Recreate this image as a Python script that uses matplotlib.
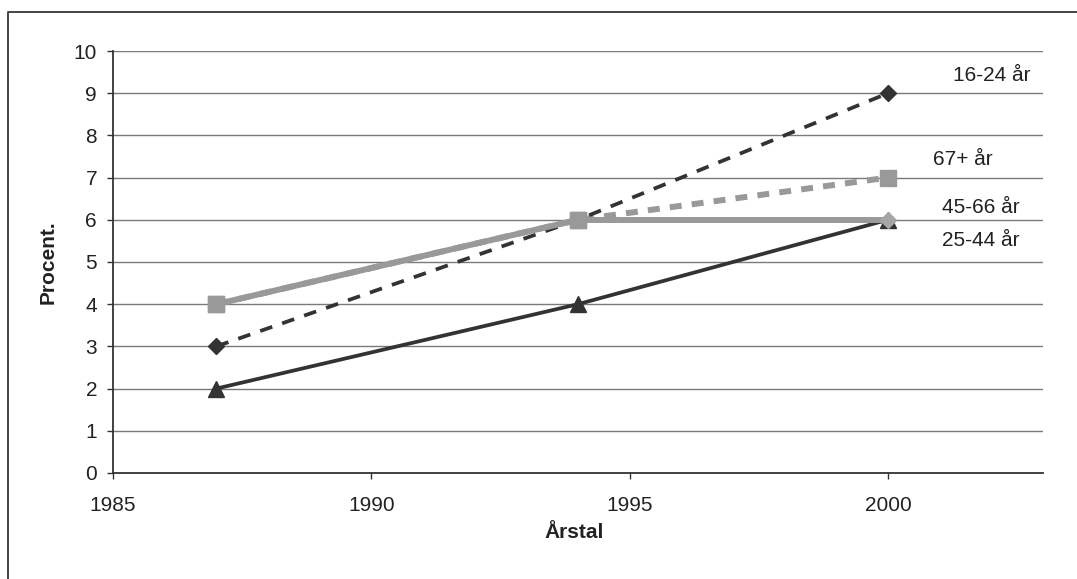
import matplotlib.pyplot as plt
from matplotlib.lines import Line2D

years = [1987, 1994, 2000]
age_16_24 = [3, 6, 9]
age_25_44 = [2, 4, 6]
age_45_66 = [4, 6, 6]
age_67_plus = [4, 6, 7]

group_labels = ["16-24 år", "67+ år", "45-66 år", "25-44 år"]
label_y = [9.43, 7.42, 6.28, 5.52]
label_x = [2001.25, 2000.87, 2001.04, 2001.04]

y_ticks = list(range(0, 11))
x_ticks = [1985, 1990, 1995, 2000]

dark = "#333333"
light = "#999999"
text_col = "#222222"

plt.rcParams['font.family'] = ['Liberation Sans', 'DejaVu Sans']

fig = plt.figure(figsize=(10.77, 5.79), dpi=100)
ax = fig.add_axes([0.1049, 0.1831, 0.8635, 0.7288])

# frame line along the top and left edge of the chart area
fig.add_artist(Line2D([8 / 1077, 8 / 1077, 1.0], [0.0, 1 - 12 / 579, 1 - 12 / 579],
                      transform=fig.transFigure, color="#444444", linewidth=1.4))

for y in y_ticks[1:]:
    ax.axhline(y, color="#7a7a7a", linewidth=1.0, zorder=1)

# 67+ dashed underneath, 45-66 thick solid over it
ax.plot(years, age_67_plus, color=light, linestyle=(0, (2.0, 1.7)), linewidth=4.3,
        marker='s', markersize=11, markerfacecolor=light, markeredgecolor=light, zorder=2)
ax.plot(years, age_16_24, color=dark, linestyle=(0, (3.4, 2.8)), linewidth=2.7,
        marker='D', markersize=8.5, markerfacecolor=dark, markeredgecolor=dark, zorder=3)
ax.plot(years, age_25_44, color=dark, linestyle='-', linewidth=2.7,
        marker='^', markersize=11, markerfacecolor=dark, markeredgecolor=dark, zorder=3)
ax.plot(years[:2], age_45_66[:2], color=light, linestyle='-', linewidth=4.3, zorder=4)
ax.plot(years[1:], age_45_66[1:], color=light, linestyle='-', linewidth=4.3,
        marker='D', markersize=8.5, markevery=[1], markerfacecolor="#a6a6a6",
        markeredgecolor="#a6a6a6", zorder=4)
ax.plot(years[:2], age_67_plus[:2], linestyle='none', marker='s', markersize=11,
        color=light, zorder=5)

for txt, tx, ty in zip(group_labels, label_x, label_y):
    ax.text(tx, ty, txt, fontsize=15, color=text_col, ha='left', va='center')

ax.set_xlim(1985, 2003)
ax.set_ylim(0, 10)
ax.set_xticks(x_ticks)
ax.set_yticks(y_ticks)
ax.tick_params(axis='both', direction='out', length=4.5, width=1.0, color=dark,
               labelsize=15, labelcolor=text_col)
ax.tick_params(axis='y', pad=7)
ax.tick_params(axis='x', pad=12)

for side in ['top', 'right']:
    ax.spines[side].set_visible(False)
for side in ['left', 'bottom']:
    ax.spines[side].set_color(dark)
    ax.spines[side].set_linewidth(1.3)

fig.text(0.0446, 0.5475, "Procent.", rotation=90, fontsize=15, fontweight='bold',
         color=text_col, ha='center', va='center')
fig.text(0.533, 0.081, "Årstal", fontsize=15, fontweight='bold',
         color=text_col, ha='center', va='center')

fig.savefig("out.png", dpi=100)
